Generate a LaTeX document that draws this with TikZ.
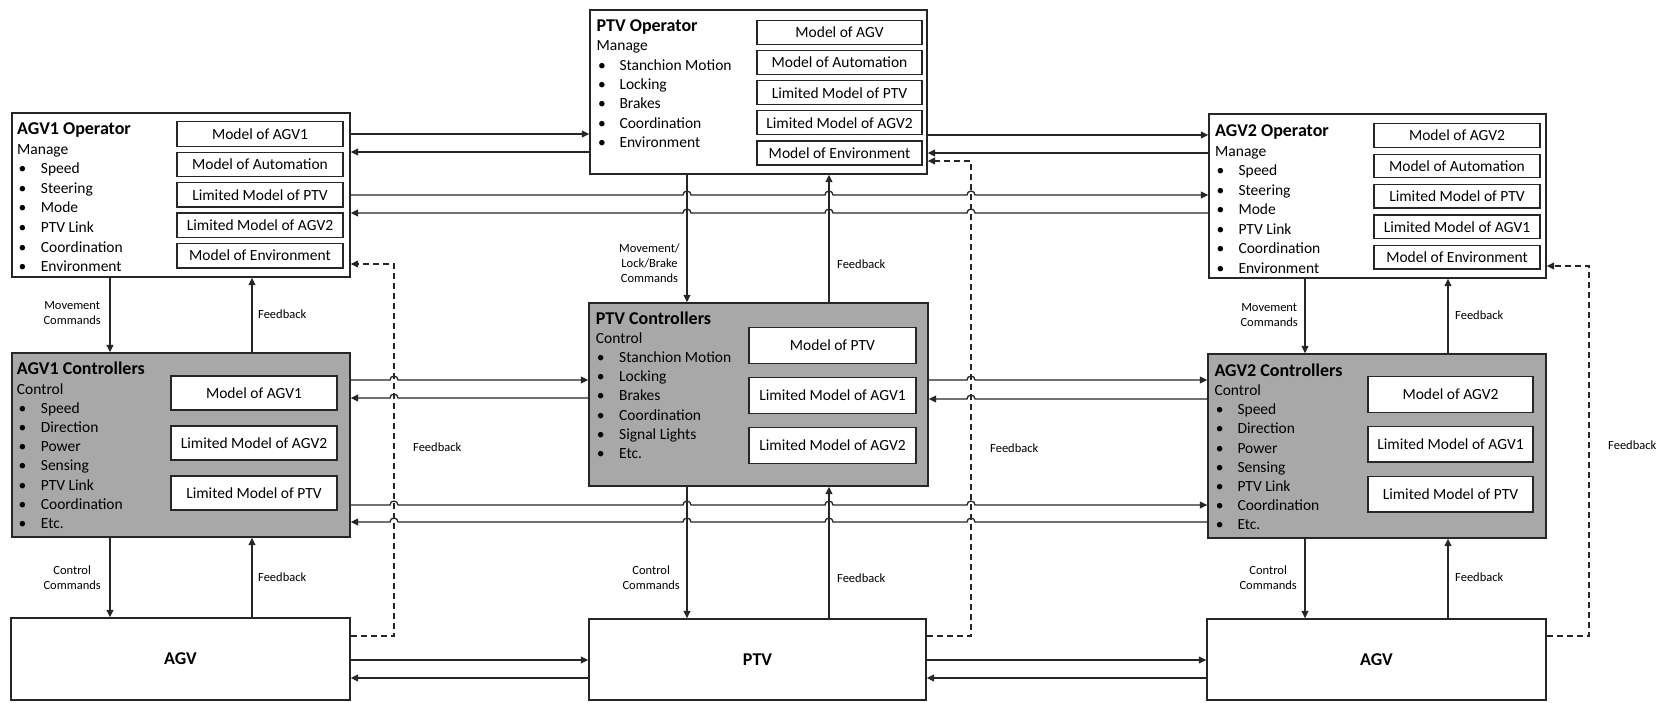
\documentclass[tikz,border=0pt]{standalone}
\usepackage{fontspec}
\setmainfont{Carlito}
\usetikzlibrary{arrows.meta}

\tikzset{
  box/.style={draw=black!85, line width=1.4pt, fill=white, inner sep=0pt, rectangle},
  ctlbox/.style={box, fill=black!34},
  modelbox/.style={box, line width=1.3pt, font=\fontsize{15.5}{18}\selectfont},
  unitbox/.style={box, font=\fontsize{18}{20}\selectfont\bfseries},
  conn/.style={draw=black!85, line width=1.3pt, -{Triangle[length=7.5pt,width=7pt]}},
  dconn/.style={conn, dash pattern=on 6pt off 4pt},
  lbl/.style={font=\fontsize{12.5}{15}\selectfont, align=center, inner sep=0pt},
  ttl/.style={font=\fontsize{18}{20}\selectfont\bfseries, anchor=base west, inner sep=0pt},
  txt/.style={font=\fontsize{15.5}{18}\selectfont, anchor=base west, inner sep=0pt},
}

\begin{document}
\begin{tikzpicture}[x=1pt, y=-1pt]
\useasboundingbox (0,0) rectangle (1670,702);
\fill[white] (0,0) rectangle (1670,702);

% ---------- operators ----------
\node[box, minimum width=338pt, minimum height=164pt] (a1op) at (181,195) {};
\node[box, minimum width=337pt, minimum height=164pt] (ptvop) at (758.5,92) {};
\node[box, minimum width=337pt, minimum height=164pt] (a2op) at (1377.5,196) {};

% ---------- controllers ----------
\node[ctlbox, minimum width=338pt, minimum height=184pt] (a1ctl) at (181,445) {};
\node[ctlbox, minimum width=339pt, minimum height=183pt] (ptvctl) at (758.5,394.5) {};
\node[ctlbox, minimum width=338pt, minimum height=184pt] (a2ctl) at (1377,446) {};

% ---------- vehicles ----------
\node[unitbox, minimum width=339pt, minimum height=82pt] (agv1) at (180.5,659) {AGV};
\node[unitbox, minimum width=337pt, minimum height=81pt] (ptv) at (757.5,659.5) {PTV};
\node[unitbox, minimum width=339pt, minimum height=81pt] (agv2) at (1376.5,659.5) {AGV};

% ---------- operator texts ----------
\node[ttl] (a1op-t) at (17,134) {AGV1 Operator};
\node[txt] (a1op-h) at (17,154) {Manage};
\foreach \t [count=\i] in {Speed,Steering,Mode,PTV Link,Coordination,Environment}
  \node[txt] (a1op-b\i) at (18.5,154+19.6*\i) {\makebox[22.2pt][l]{\textbullet}\t};

\node[ttl] (ptvop-t) at (596.5,31.5) {PTV Operator};
\node[txt] (ptvop-h) at (596.5,50.7) {Manage};
\foreach \t [count=\i] in {Stanchion Motion,Locking,Brakes,Coordination,Environment}
  \node[txt] (ptvop-b\i) at (598,50.7+19.4*\i) {\makebox[21.3pt][l]{\textbullet}\t};

\node[ttl] (a2op-t) at (1215,136.5) {AGV2 Operator};
\node[txt] (a2op-h) at (1215,156) {Manage};
\foreach \t [count=\i] in {Speed,Steering,Mode,PTV Link,Coordination,Environment}
  \node[txt] (a2op-b\i) at (1216.5,156+19.5*\i) {\makebox[21.8pt][l]{\textbullet}\t};

% ---------- controller texts ----------
\node[ttl] (a1ctl-t) at (16.7,374) {AGV1 Controllers};
\node[txt] (a1ctl-h) at (16.7,394) {Control};
\foreach \t [count=\i] in {Speed,Direction,Power,Sensing,PTV Link,Coordination,Etc.}
  \node[txt] (a1ctl-b\i) at (18.3,394+19.2*\i) {\makebox[22.4pt][l]{\textbullet}\t};

\node[ttl] (ptvctl-t) at (595.7,324.3) {PTV Controllers};
\node[txt] (ptvctl-h) at (595.7,343.3) {Control};
\foreach \t [count=\i] in {Stanchion Motion,Locking,Brakes,Coordination,Signal Lights,Etc.}
  \node[txt] (ptvctl-b\i) at (596.6,343.3+19.2*\i) {\makebox[22.4pt][l]{\textbullet}\t};

\node[ttl] (a2ctl-t) at (1214.3,376) {AGV2 Controllers};
\node[txt] (a2ctl-h) at (1214.3,395.5) {Control};
\foreach \t [count=\i] in {Speed,Direction,Power,Sensing,PTV Link,Coordination,Etc.}
  \node[txt] (a2ctl-b\i) at (1215.6,395.5+19.2*\i) {\makebox[21.7pt][l]{\textbullet}\t};

% ---------- mental models ----------
\foreach \t [count=\i] in {Model of AGV1,Model of Automation,Limited Model of PTV,Limited Model of AGV2,Model of Environment}
  \node[modelbox, minimum width=166pt, minimum height=24.5pt] (a1op-m\i) at (260,134+30.4*\i-30.4) {\t};
\foreach \t [count=\i] in {Model of AGV,Model of Automation,Limited Model of PTV,Limited Model of AGV2,Model of Environment}
  \node[modelbox, minimum width=165pt, minimum height=24pt] (ptvop-m\i) at (839.5,32.5+30.1*\i-30.1) {\t};
\foreach \t [count=\i] in {Model of AGV2,Model of Automation,Limited Model of PTV,Limited Model of AGV1,Model of Environment}
  \node[modelbox, minimum width=166pt, minimum height=23.5pt] (a2op-m\i) at (1457,135.5+30.4*\i-30.4) {\t};

\foreach \t [count=\i] in {Model of AGV1,Limited Model of AGV2,Limited Model of PTV}
  \node[modelbox, minimum width=166pt, minimum height=34pt] (a1ctl-m\i) at (254,393+50*\i-50) {\t};
\foreach \t [count=\i] in {Model of PTV,Limited Model of AGV1,Limited Model of AGV2}
  \node[modelbox, minimum width=167pt, minimum height=35.5pt] (ptvctl-m\i) at (832.5,345.5+50*\i-50) {\t};
\foreach \t [count=\i] in {Model of AGV2,Limited Model of AGV1,Limited Model of PTV}
  \node[modelbox, minimum width=165pt, minimum height=35.5pt] (a2ctl-m\i) at (1450.5,394.5+49.8*\i-49.8) {\t};

% ---------- operator links ----------
\draw[conn] (a1op.east |- 0,134) -- (ptvop.west |- 0,134);
\draw[conn] (ptvop.west |- 0,152) -- (a1op.east |- 0,152);
\draw[conn] (ptvop.east |- 0,135) -- (a2op.west |- 0,135);
\draw[conn] (a2op.west |- 0,153) -- (ptvop.east |- 0,153);
\draw[conn] (a1op.east |- 0,195)
  \foreach \h in {687,829,971} { -- (\h-4,195) arc[start angle=180,end angle=0,radius=4pt] }
  -- (a2op.west |- 0,195);
\draw[conn] (a2op.west |- 0,213)
  \foreach \h in {971,829,687} { -- (\h+4,213) arc[start angle=0,end angle=180,radius=4pt] }
  -- (a1op.east |- 0,213);

% ---------- controller links ----------
\draw[conn] (a1ctl.east |- 0,380)
  -- (390,380) arc[start angle=180,end angle=0,radius=4pt]
  -- (ptvctl.west |- 0,380);
\draw[conn] (ptvctl.west |- 0,398)
  -- (398,398) arc[start angle=0,end angle=180,radius=4pt]
  -- (a1ctl.east |- 0,398);
\draw[conn] (ptvctl.east |- 0,380)
  -- (967,380) arc[start angle=180,end angle=0,radius=4pt]
  -- (a2ctl.west |- 0,380);
\draw[conn] (a2ctl.west |- 0,399)
  -- (975,399) arc[start angle=0,end angle=180,radius=4pt]
  -- (ptvctl.east |- 0,399);
\draw[conn] (a1ctl.east |- 0,505)
  \foreach \h in {394,687,829,971} { -- (\h-4,505) arc[start angle=180,end angle=0,radius=4pt] }
  -- (a2ctl.west |- 0,505);
\draw[conn] (a2ctl.west |- 0,522)
  \foreach \h in {971,829,687,394} { -- (\h+4,522) arc[start angle=0,end angle=180,radius=4pt] }
  -- (a1ctl.east |- 0,522);

% ---------- vehicle links ----------
\draw[conn] (agv1.east |- 0,660) -- (ptv.west |- 0,660);
\draw[conn] (ptv.west |- 0,678) -- (agv1.east |- 0,678);
\draw[conn] (ptv.east |- 0,660) -- (agv2.west |- 0,660);
\draw[conn] (agv2.west |- 0,678) -- (ptv.east |- 0,678);

% ---------- commands and feedback ----------
\draw[conn] (a1op.south -| 110,0) -- (a1ctl.north -| 110,0);
\draw[conn] (a1ctl.north -| 252,0) -- (a1op.south -| 252,0);
\draw[conn] (a1ctl.south -| 110,0) -- (agv1.north -| 110,0);
\draw[conn] (agv1.north -| 252,0) -- (a1ctl.south -| 252,0);

\draw[conn] (ptvop.south -| 687,0) -- (ptvctl.north -| 687,0);
\draw[conn] (ptvctl.north -| 829,0) -- (ptvop.south -| 829,0);
\draw[conn] (ptvctl.south -| 687,0) -- (ptv.north -| 687,0);
\draw[conn] (ptv.north -| 829,0) -- (ptvctl.south -| 829,0);

\draw[conn] (a2op.south -| 1305,0) -- (a2ctl.north -| 1305,0);
\draw[conn] (a2ctl.north -| 1448,0) -- (a2op.south -| 1448,0);
\draw[conn] (a2ctl.south -| 1305,0) -- (agv2.north -| 1305,0);
\draw[conn] (agv2.north -| 1448,0) -- (a2ctl.south -| 1448,0);

% ---------- direct feedback to operators ----------
\draw[dconn] (agv1.east |- 0,636) -| (394,264) -- (a1op.east |- 0,264);
\draw[dconn] (ptv.east |- 0,636) -| (971,161) -- (ptvop.east |- 0,161);
\draw[dconn] (agv2.east |- 0,636) -| (1589,266) -- (a2op.east |- 0,266);

% ---------- labels ----------
\node[lbl, anchor=east] (l-a1mc) at (101,313) {Movement\\Commands};
\node[lbl, anchor=west] (l-a1fb) at (258,314) {Feedback};
\node[lbl, anchor=east] (l-pmc) at (680,263) {Movement/\\Lock/Brake\\Commands};
\node[lbl, anchor=west] (l-pfb) at (837,264) {Feedback};
\node[lbl, anchor=east] (l-a2mc) at (1298,315) {Movement\\Commands};
\node[lbl, anchor=west] (l-a2fb) at (1455,315) {Feedback};

\node[lbl, anchor=west] (l-d1) at (413,447) {Feedback};
\node[lbl, anchor=west] (l-d2) at (990,448) {Feedback};
\node[lbl, anchor=west] (l-d3) at (1608,445) {Feedback};

\node[lbl, anchor=east] (l-a1cc) at (101,578) {Control\\Commands};
\node[lbl, anchor=west] (l-a1cf) at (258,577) {Feedback};
\node[lbl, anchor=east] (l-pcc) at (680,578) {Control\\Commands};
\node[lbl, anchor=west] (l-pcf) at (837,578) {Feedback};
\node[lbl, anchor=east] (l-a2cc) at (1297,578) {Control\\Commands};
\node[lbl, anchor=west] (l-a2cf) at (1455,577) {Feedback};
\end{tikzpicture}
\end{document}
